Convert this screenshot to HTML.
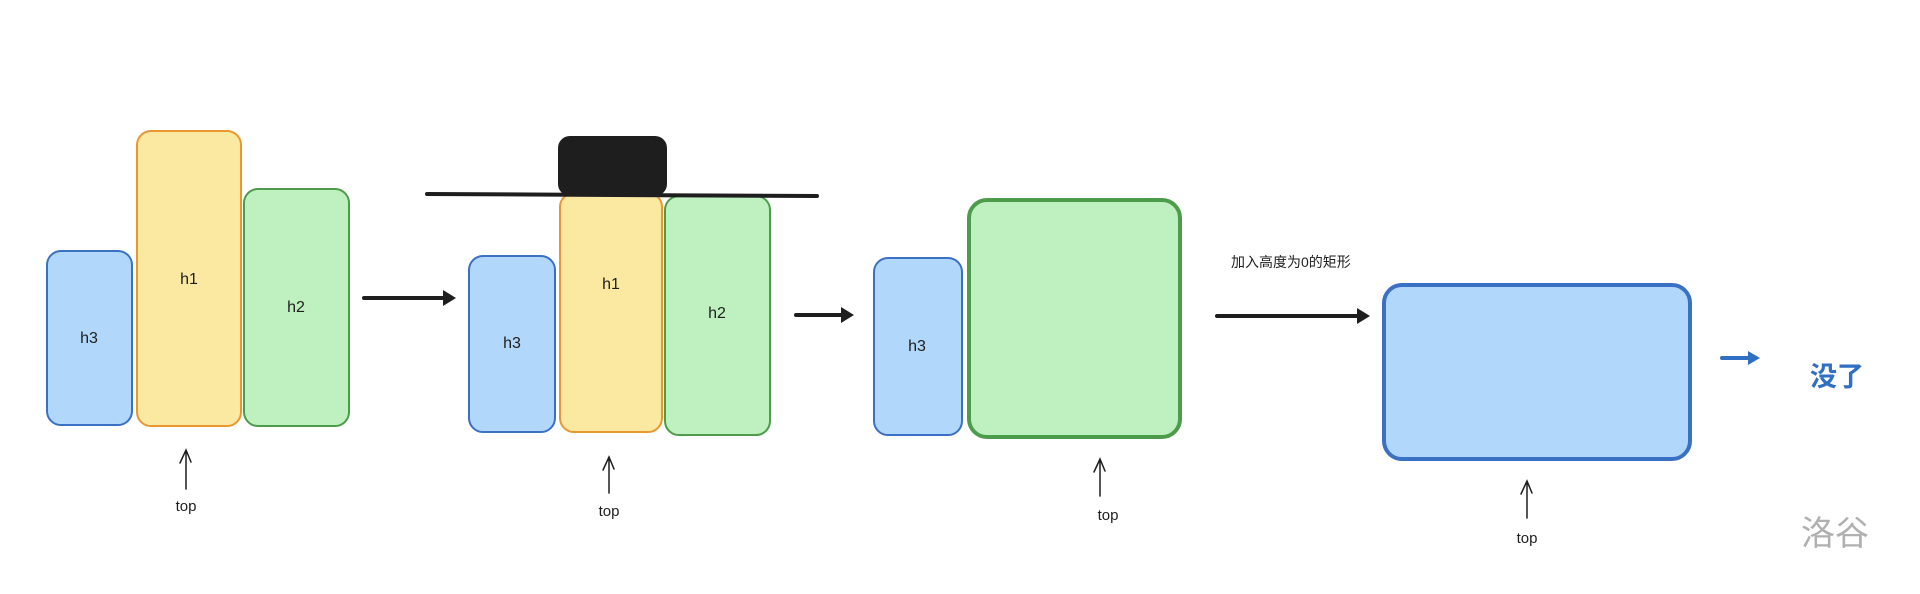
<!DOCTYPE html>
<html><head><meta charset="utf-8"><style>
html,body{margin:0;padding:0;background:#fff;width:1920px;height:594px;overflow:hidden}
text{font-family:"Liberation Sans","Noto Sans CJK SC",sans-serif}
</style></head><body>
<svg width="1920" height="594" viewBox="0 0 1920 594" xmlns="http://www.w3.org/2000/svg">
<g stroke-width="2">
<rect x="47" y="251" width="85" height="174" rx="14" fill="#b1d7fa" stroke="#3a71c4"/>
<rect x="137" y="131" width="104" height="295" rx="14" fill="#fbe9a2" stroke="#e8982f"/>
<rect x="244" y="189" width="105" height="237" rx="14" fill="#bff0bf" stroke="#4d9c4b"/>
<rect x="469" y="256" width="86" height="176" rx="14" fill="#b1d7fa" stroke="#3a71c4"/>
<rect x="560" y="193" width="102" height="239" rx="14" fill="#fbe9a2" stroke="#e8982f"/>
<rect x="665" y="196" width="105" height="239" rx="14" fill="#bff0bf" stroke="#4d9c4b"/>
<rect x="874" y="258" width="88" height="177" rx="14" fill="#b1d7fa" stroke="#3a71c4"/>
<rect x="969" y="200" width="211" height="237" rx="18" fill="#bff0bf" stroke="#4d9c4b" stroke-width="4"/>
<rect x="1384" y="285" width="306" height="174" rx="18" fill="#b1d7fa" stroke="#3a71c4" stroke-width="4"/>
</g>
<rect x="558" y="136" width="109" height="60" rx="12" fill="#1e1e1e"/>
<line x1="427" y1="194" x2="817" y2="196" stroke="#1e1e1e" stroke-width="4" stroke-linecap="round"/>
<g fill="#1e1e1e" font-size="16" text-anchor="middle">
<text x="89" y="343">h3</text><text x="189" y="284">h1</text><text x="296" y="312">h2</text>
<text x="512" y="348">h3</text><text x="611" y="289">h1</text><text x="717" y="318">h2</text>
<text x="917" y="351">h3</text>
<text x="186" y="511" font-size="15">top</text>
<text x="609" y="516" font-size="15">top</text>
<text x="1108" y="520" font-size="15">top</text>
<text x="1527" y="543" font-size="15">top</text>
</g>
<text x="1231" y="267" font-size="14" fill="#1e1e1e">加入高度为0的矩形</text>
<g stroke="#1e1e1e" stroke-width="4" stroke-linecap="round">
<line x1="364" y1="298" x2="446" y2="298"/>
<line x1="796" y1="315" x2="844" y2="315"/>
<line x1="1217" y1="316" x2="1360" y2="316"/>
</g>
<g fill="#1e1e1e">
<path d="M443,290 L456,298 L443,306 z"/>
<path d="M841,307 L854,315 L841,323 z"/>
<path d="M1357,308 L1370,316 L1357,324 z"/>
</g>
<g stroke="#1e1e1e" stroke-width="1.5" fill="none" stroke-linecap="round">
<path d="M186,489 L186,450 M180,463 L186,450 L191,462"/>
<path d="M609,493 L609,457 M603,470 L609,457 L614,469"/>
<path d="M1100,496 L1100,459 M1094,472 L1100,459 L1105,471"/>
<path d="M1527,518 L1527,481 M1521,494 L1527,481 L1532,493"/>
</g>
<line x1="1722" y1="358" x2="1750" y2="358" stroke="#2f6fc4" stroke-width="4" stroke-linecap="round"/>
<path d="M1748,351 L1760,358 L1748,365 z" fill="#2f6fc4"/>
<text x="1810" y="386" font-size="27" fill="#2f6fc4" font-weight="bold">没了</text>
<text x="1801" y="545" font-size="34" fill="#b0b0b0">洛谷</text>
</svg>
</body></html>
